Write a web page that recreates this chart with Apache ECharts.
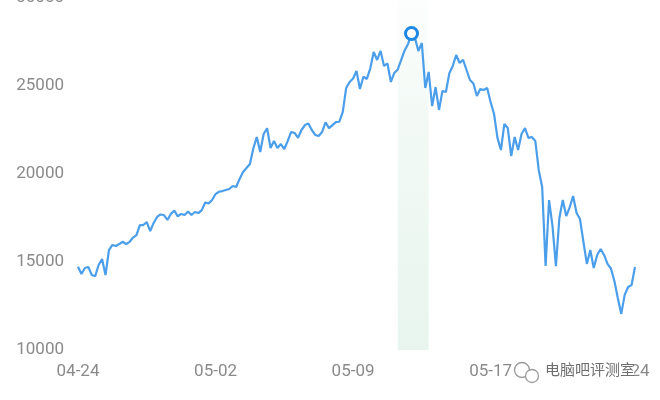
<!DOCTYPE html>
<html>
<head>
<meta charset="utf-8">
<script src="https://cdn.jsdelivr.net/npm/echarts@6/dist/echarts.min.js"></script>
<style>html,body{margin:0;padding:0;background:#fff;}#c{width:660px;height:400px;}</style>
</head>
<body>
<div id="c"></div>
<script>
const tickLabels = ['04-24', '05-02', '05-09', '05-17', '05-24'];
const pointsPerTick = 40;
const values = [
  14730, 14320, 14660, 14720, 14260, 14200, 14830, 15170, 14260, 15680,
  15970, 15910, 16020, 16150, 16020, 16140, 16390, 16530, 17100, 17100,
  17270, 16760, 17220, 17560, 17700, 17670, 17390, 17730, 17930, 17590,
  17730, 17670, 17870, 17670, 17840, 17780, 17950, 18380, 18330, 18520,
  18860, 18990, 19030, 19090, 19150, 19320, 19260, 19720, 20110, 20340,
  20570, 21460, 22100, 21250, 22270, 22600, 21480, 21880, 21480, 21700,
  21420, 21880, 22390, 22330, 22050, 22500, 22780, 22870, 22500, 22220,
  22160, 22390, 22930, 22610, 22780, 22950, 22970, 23520, 24890, 25230,
  25430, 25850, 24830, 25530, 25400, 25990, 26930, 26480, 26990, 26140,
  26280, 25230, 25740, 25940, 26480, 27020, 27390, 27980, 27730, 26990,
  27440, 24890, 25800, 23860, 24940, 23640, 24720, 24660, 25720, 26140,
  26760, 26310, 26480, 25910, 25340, 25140, 24430, 24830, 24770, 24890,
  24090, 23410, 22050, 21360, 22840, 22610, 21020, 22100, 21360, 22270,
  22610, 22050, 22100, 21880, 20230, 19260, 14770, 18520, 17050, 14770,
  17500, 18520, 17610, 18100, 18750, 17780, 17440, 16140, 14890, 15680,
  14660, 15400, 15740, 15400, 14890, 14630, 13920, 12950, 12050, 13130,
  13580, 13690, 14720
];
const yTicks = [10000, 15000, 20000, 25000, 30000];
const highlightIndex = 97;
const bandRange = [93, 102];

const categories = values.map((_, i) => (i % pointsPerTick === 0 ? tickLabels[i / pointsPerTick] : ''));

const chart = echarts.init(document.getElementById('c'), null, {renderer: 'canvas'});
chart.setOption({
  animation: false,
  backgroundColor: '#ffffff',
  grid: {left: 78, right: 25, top: -2, bottom: 50, containLabel: false, outerBoundsMode: 'none'},
  xAxis: {
    type: 'category',
    data: categories,
    boundaryGap: false,
    axisLine: {show: false},
    axisTick: {show: false},
    splitLine: {show: false},
    axisLabel: {
      interval: pointsPerTick - 1,
      color: '#8a8a8a',
      fontSize: 17,
      fontFamily: 'Roboto',
      margin: 13
    }
  },
  yAxis: {
    type: 'value',
    min: yTicks[0],
    max: yTicks[yTicks.length - 1],
    interval: yTicks[1] - yTicks[0],
    axisLine: {show: false},
    axisTick: {show: false},
    splitLine: {show: false},
    axisLabel: {
      color: '#8a8a8a', fontSize: 17, fontFamily: 'Roboto', margin: 14,
      formatter: (v) => String(v)
    }
  },
  series: [
    {
      type: 'line',
      data: values,
      symbol: 'none',
      lineStyle: {color: '#4a9eea', width: 2.2},
      markArea: {
        silent: true,
        itemStyle: {
          color: {
            type: 'linear', x: 0, y: 0, x2: 0, y2: 1,
            colorStops: [
              {offset: 0, color: 'rgba(232,245,238,0.1)'},
              {offset: 0.3, color: 'rgba(232,245,238,0.5)'},
              {offset: 1, color: 'rgba(232,245,238,1)'}
            ]
          }
        },
        data: [[{xAxis: bandRange[0]}, {xAxis: bandRange[1]}]]
      },
      z: 2
    },
    {
      type: 'scatter',
      data: [[highlightIndex, values[highlightIndex]]],
      symbol: 'circle',
      symbolSize: 12,
      itemStyle: {color: '#ffffff', borderColor: '#1e88e5', borderWidth: 3, opacity: 1},
      z: 5
    }
  ],
  graphic: [
    {type: 'rect', left: 512, top: 360, shape: {width: 122, height: 26}, style: {fill: '#ffffff'}, z: 10},
    {type: 'circle', shape: {cx: 522, cy: 370, r: 7.5}, style: {fill: '#fff', stroke: '#9a9a9a', lineWidth: 1.3}, z: 11},
    {type: 'circle', shape: {cx: 532, cy: 376, r: 6.5}, style: {fill: '#fff', stroke: '#9a9a9a', lineWidth: 1.3}, z: 12},
    {type: 'text', left: 545, top: 362, style: {text: '电脑吧评测室', fill: '#6e6e6e', font: '15px "Noto Sans CJK SC"'}, z: 13}
  ]
});
</script>
</body>
</html>
